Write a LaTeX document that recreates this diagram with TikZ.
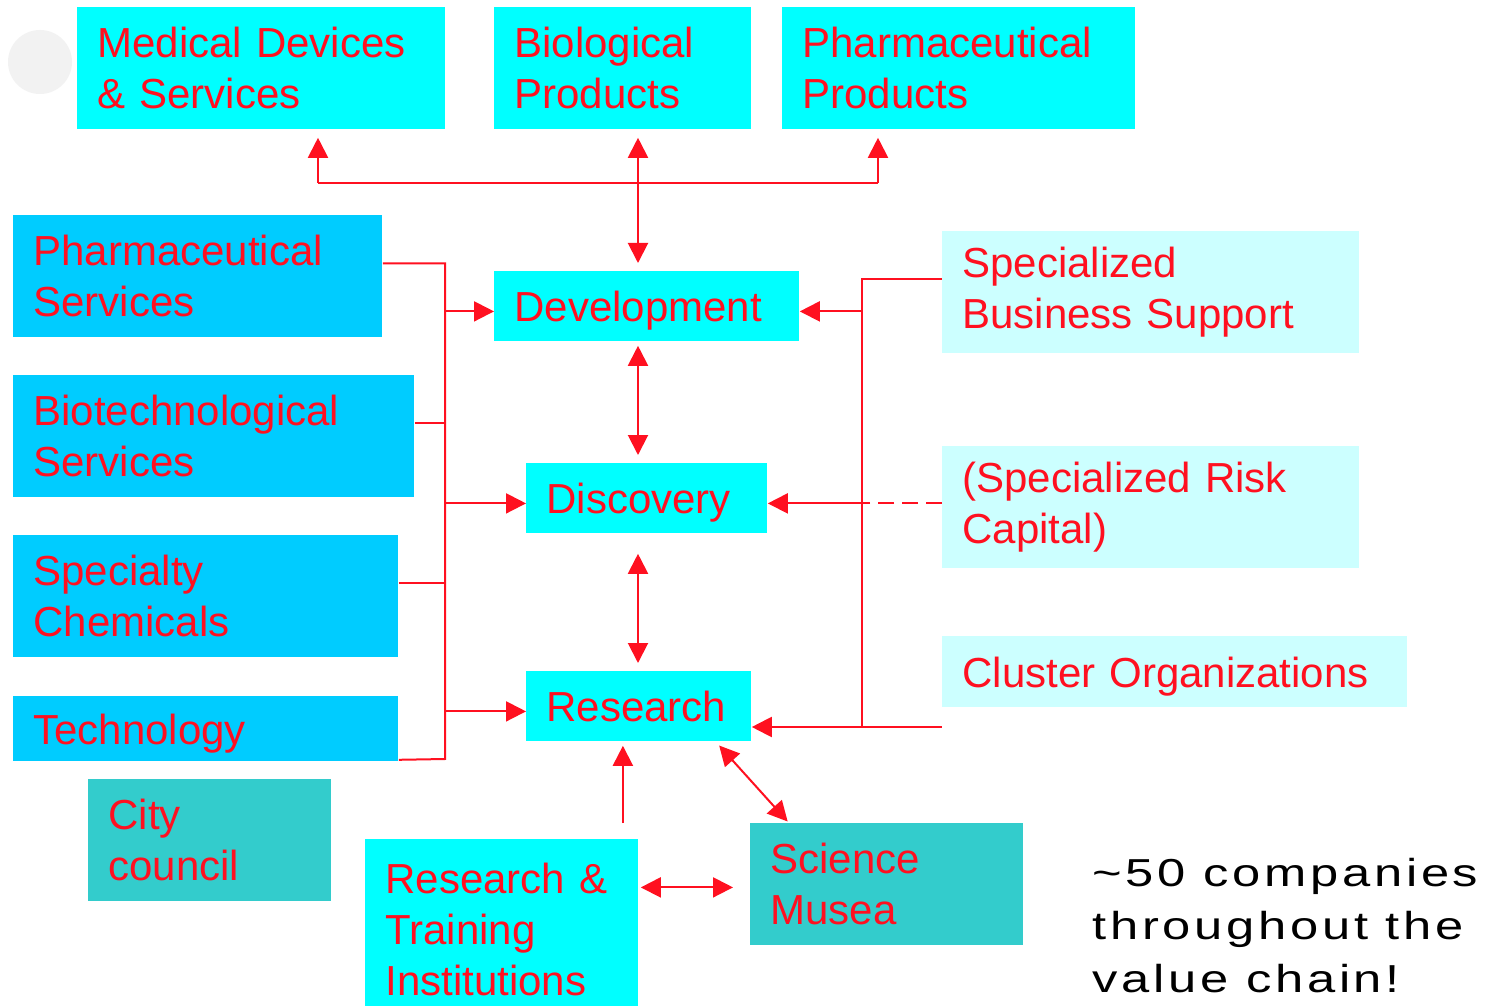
\documentclass[tikz,border=0pt]{standalone}
\usepackage{fontspec}
\setmainfont{Liberation Sans}
\newfontfamily\notefont{Liberation Sans}[FakeStretch=1.3, LetterSpace=9.5]
\usetikzlibrary{positioning, arrows.meta}

\definecolor{diagred}{RGB}{255,16,32}
\definecolor{stagecyan}{RGB}{0,255,255}
\definecolor{servblue}{RGB}{0,204,255}
\definecolor{civicteal}{RGB}{51,204,204}
\definecolor{supportcyan}{RGB}{204,255,255}

\tikzset{
    box/.style={anchor=north west, inner xsep=10pt, inner ysep=0pt, align=left,
        text=diagred, font=\fontsize{21}{25.5}\selectfont},
    oneline/.style={text depth=0pt},
    stage/.style={box, fill=stagecyan},
    serv/.style={box, fill=servblue},
    civic/.style={box, fill=civicteal},
    support/.style={box, fill=supportcyan},
    link/.style={draw=diagred, line width=1pt},
    arrow/.style={link, -{Triangle[length=10pt,width=10pt]}},
    twoway/.style={link, {Triangle[length=10pt,width=10pt]}-{Triangle[length=10pt,width=10pt]}}
}

\begin{document}
\begin{tikzpicture}[x=0.5pt, y=-0.5pt]
    \useasboundingbox[fill=white] (0,0) rectangle (1501,1006);
    \fill[black!5] (40,62) circle (16pt);

    \node[stage, text width=164pt, minimum height=61pt] (meddev) at (77,7) {Medical Devices\\\& Services};
    \node[stage, text width=108.5pt, minimum height=61pt] (bioprod) at (494,7) {Biological\\Products};
    \node[stage, text width=156.5pt, minimum height=61pt] (pharmprod) at (782,7) {Pharmaceutical\\Products};

    \node[serv, text width=164.5pt, minimum height=61pt] (pharmserv) at (13,215) {Pharmaceutical\\Services};
    \node[serv, text width=180.5pt, minimum height=61pt] (biotech) at (13,375) {Biotechnological\\Services};
    \node[serv, text width=172.5pt, minimum height=61pt] (specchem) at (13,535) {Specialty\\Chemicals};
    \node[serv, oneline, text width=172.5pt, minimum height=32.5pt] (techno) at (13,696) {Technology};
    \node[civic, text width=101.5pt, minimum height=61pt] (city) at (88,779) {City\\council};

    \node[stage, oneline, text width=132.5pt, minimum height=35pt] (devel) at (494,271) {Development};
    \node[stage, oneline, text width=100.5pt, minimum height=35pt] (discov) at (526,463) {Discovery};
    \node[stage, oneline, text width=92.5pt, minimum height=35pt] (research) at (526,671) {Research};

    \node[stage, text width=116.5pt, minimum height=90pt] (rti) at (365,839) {Research \&\\Training\\Institutions};
    \node[civic, text width=116.5pt, minimum height=61pt] (musea) at (750,823) {Science\\Musea};

    \node[support, text width=188.5pt, minimum height=61pt] (bizsup) at (942,231) {Specialized\\Business Support};
    \node[support, text width=188.5pt, minimum height=61pt] (riskcap) at (942,446) {(Specialized Risk\\Capital)};
    \node[support, oneline, text width=212.5pt, minimum height=35.5pt] (clustorg) at (942,636) {Cluster Organizations};

    \node[anchor=north west, inner sep=0pt, align=left, font=\notefont\fontsize{19.5}{26.5}\selectfont] (note) at (1092,858)
        {\char`~50 companies\\throughout the\\value chain!};

    \coordinate (tb west) at (318,183);
    \coordinate (tb mid) at (638,183);
    \coordinate (tb east) at (878,183);
    \coordinate (lb bot) at (445,759);
    \coordinate (rb bot) at (862,727);

    \draw[link] (tb west) -- (tb east);
    \draw[arrow, shorten >=4pt] (tb west) -- (tb west |- meddev.south);
    \draw[arrow, shorten >=4pt] (tb east) -- (tb east |- pharmprod.south);
    \draw[twoway, shorten <=4pt, shorten >=4pt] (bioprod.south -| tb mid) -- (devel.north -| tb mid);
    \draw[twoway, shorten <=2pt, shorten >=4pt] (devel.south -| tb mid) -- (discov.north -| tb mid);
    \draw[twoway, shorten <=10pt, shorten >=4pt] (discov.south -| tb mid) -- (research.north -| tb mid);

    \draw[link] ([yshift=6.5pt]pharmserv.east) -| (lb bot) -- ([yshift=1pt]techno.south east);
    \draw[link] ([yshift=6.5pt]biotech.east) -- ([yshift=6.5pt]biotech.east -| lb bot);
    \draw[link] ([yshift=6.5pt]specchem.east) -- ([yshift=6.5pt]specchem.east -| lb bot);
    \draw[arrow] ([yshift=-2.5pt]devel.west -| lb bot) -- ([yshift=-2.5pt]devel.west);
    \draw[arrow] ([yshift=-2.5pt]discov.west -| lb bot) -- ([yshift=-2.5pt]discov.west);
    \draw[arrow] ([yshift=-2.5pt]research.west -| lb bot) -- ([yshift=-2.5pt]research.west);

    \draw[link] ([yshift=6.5pt]bizsup.west) -| (rb bot) -- (rb bot -| clustorg.west);
    \draw[link, dashed, dash pattern=on 8pt off 4pt] ([yshift=-2.5pt]discov.east -| riskcap.west) -- ([yshift=-2.5pt]discov.east -| rb bot);
    \draw[arrow] ([yshift=-2.5pt]devel.east -| rb bot) -- ([yshift=-2.5pt]devel.east);
    \draw[arrow] ([yshift=-2.5pt]discov.east -| rb bot) -- ([yshift=-2.5pt]discov.east);
    \draw[arrow] (rb bot) -- (rb bot -| research.east);

    \draw[arrow, shorten <=8pt, shorten >=2pt] ([xshift=-8pt]research.south |- rti.north) -- ([xshift=-8pt]research.south);
    \draw[twoway, shorten <=2.5pt, shorten >=1pt] ([xshift=-18pt]research.south east) -- ([xshift=19.5pt]musea.north west);
    \draw[twoway, shorten <=1pt, shorten >=8.5pt] ([yshift=-1.5pt]musea.west -| rti.east) -- ([yshift=-1.5pt]musea.west);
\end{tikzpicture}
\end{document}
